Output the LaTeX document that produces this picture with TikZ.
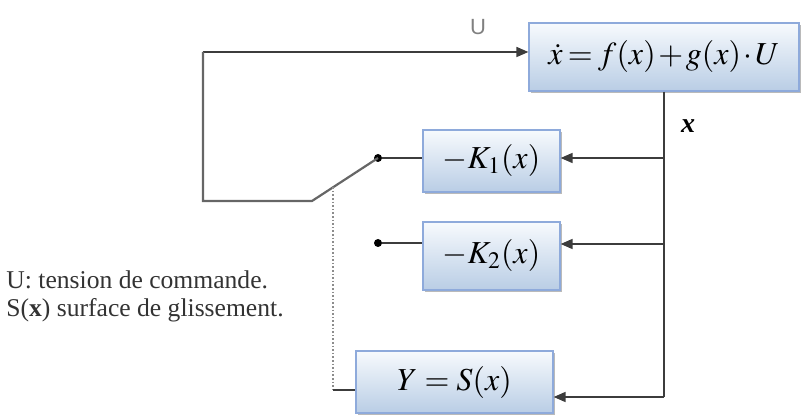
\documentclass[tikz,border=0pt]{standalone}
\usepackage{mathptmx}
\usepackage{fontspec}
\setmainfont{Liberation Serif}
\newfontfamily\labelfont{Liberation Sans}
\usetikzlibrary{arrows.meta,positioning,calc,shadows}
\definecolor{blkBorder}{HTML}{8EAADB}
\definecolor{blkTop}{HTML}{F7FAFD}
\definecolor{blkBottom}{HTML}{B9CDE5}
\definecolor{wireGray}{HTML}{3C3C3C}

\begin{document}
\begin{tikzpicture}[x=0.5pt,y=-0.5pt,
  blk/.style={draw=blkBorder,line width=0.6pt,top color=blkTop,bottom color=blkBottom,
    drop shadow={shadow xshift=1pt,shadow yshift=-1.2pt,fill=black!45,opacity=0.6},
    inner sep=0pt,font=\fontsize{16}{18}\selectfont},
  wire/.style={draw=wireGray,line width=0.8pt},
  feed/.style={wire,-{Triangle[length=6pt,width=5pt]}},
  pin/.style={circle,fill=black,inner sep=0pt,minimum size=4pt}]
  \useasboundingbox (0,0) rectangle (802,416);

  % blocks
  \node[blk,minimum width=135pt,minimum height=34pt] (sys) at (664,57)
    {$\medmuskip=1.5mu\thickmuskip=3mu \dot{x}=f(x)+g(x)\cdot U$};
  \node[blk,minimum width=68.5pt,minimum height=31pt] (kone) at (491.5,161) {$-K_1(x)$};
  \node[blk,minimum width=68.5pt,minimum height=34pt] (ktwo) at (491.5,256) {$-K_2(x)$};
  \node[blk,minimum width=98.5pt,minimum height=31pt] (surf) at (454.5,382) {$Y=S(x)$};

  % switch contacts
  \node[pin] (pa) at (378,158) {};
  \node[pin] (pb) at (378,243) {};

  \coordinate (lt) at (203,52);
  \coordinate (lb) at (203,201);
  \coordinate (sw) at (312,201);
  \coordinate (dd) at ($(sw)!0.32!(pa)$);
  \coordinate (dc) at (dd |- 0,390);
  \coordinate (bone) at (664,158);
  \coordinate (btwo) at (664,244);
  \coordinate (bend) at (664,397);

  % loop and switch
  \draw[feed] (lt) -- (sys.west |- lt);
  \draw[wire,line width=1.1pt,draw=black!60] (lt) -- (lb) -- (sw) -- (pa.center);
  \draw[wire] (pa) -- (kone.west |- pa);
  \draw[wire] (pb) -- (ktwo.west |- pb);
  \draw[wire,densely dotted,draw=black!45] (dd) -- (dc);
  \draw[wire] (dc) -- (surf.west |- dc);

  % state feedback
  \draw[wire] (sys.south) -- (bend);
  \draw[feed] (bone) -- (kone.east |- bone);
  \draw[feed] (btwo) -- (ktwo.east |- btwo);
  \draw[feed] (bend) -- (surf.east |- bend);

  % labels
  \node[text=black!50,font=\labelfont\fontsize{11}{13}\selectfont] (ulab) at (478,27) {U};
  \node[font=\fontsize{14}{16}\selectfont\bfseries\itshape] (xlab) at (688,126) {x};
  \node[anchor=north west,align=left,text=black!80,inner sep=0pt,
        font=\fontsize{12.8}{14}\selectfont] (legend) at (6,270)
        {U: tension de commande.\\S(\textbf{x}) surface de glissement.};
\end{tikzpicture}
\end{document}
